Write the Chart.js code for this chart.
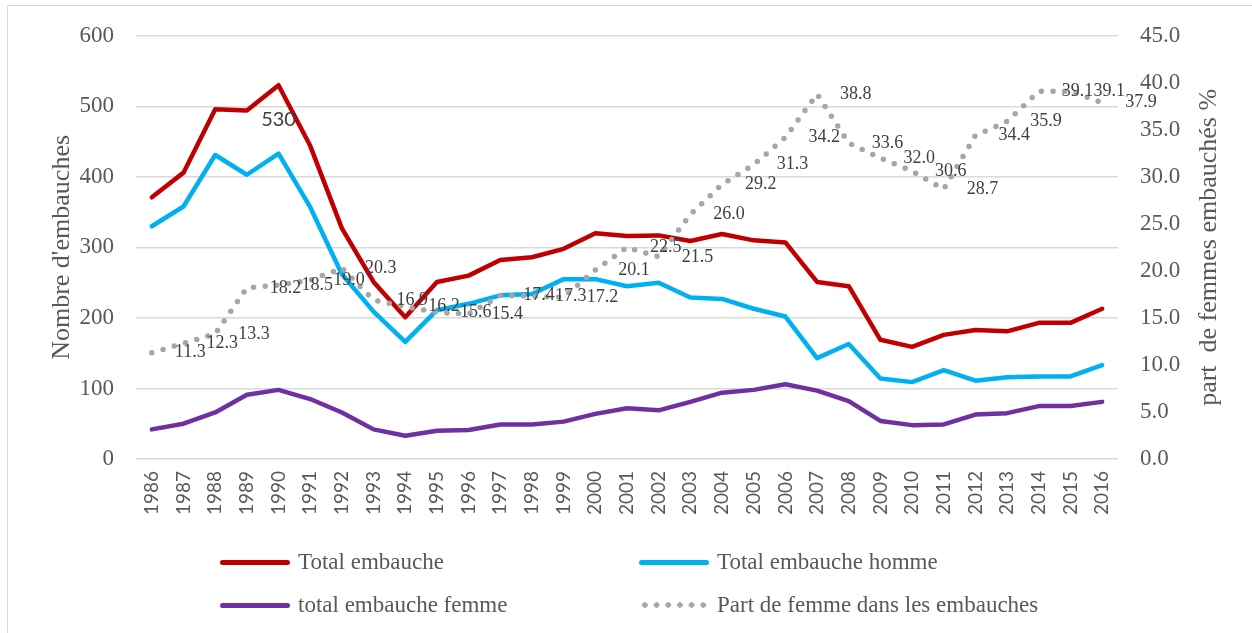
<!DOCTYPE html>
<html>
<head>
<meta charset="utf-8">
<script src="https://cdn.jsdelivr.net/npm/chart.js@4.4.1/dist/chart.umd.min.js"></script>
<style>
    html, body { margin: 0; padding: 0; background: #fff; overflow: hidden; }
    #wrap { position: relative; width: 1252px; height: 633px; }
    #frame { position: absolute; left: 7px; top: 5px; width: 1260px; height: 640px; border: 1.5px solid #d9d9d9; }
    #chart { position: absolute; left: 0; top: 0; }
    .item { position: absolute; height: 30px; display: flex; align-items: center; white-space: nowrap;
            font-family: "Liberation Serif", serif; font-size: 23px; color: #595959; }
    .swatch { width: 70px; height: 5px; border-radius: 3px; margin-right: 8px; }
    .dots { width: 70px; height: 6px; margin-right: 8px;
            background: radial-gradient(circle, #a6a6a6 2.5px, transparent 3px) 0 0 / 11.7px 6px repeat-x; }
</style>
</head>
<body>
<div id="wrap">
    <div id="frame"></div>
    <canvas id="chart" width="1252" height="633"></canvas>
    <div class="item" style="left:220px; top:547px;"><span class="swatch" style="background:#C00000"></span>Total embauche</div>
    <div class="item" style="left:639px; top:547px;"><span class="swatch" style="background:#00B0F0"></span>Total embauche homme</div>
    <div class="item" style="left:220px; top:590px;"><span class="swatch" style="background:#7030A0"></span>total embauche femme</div>
    <div class="item" style="left:639px; top:590px;"><span class="dots"></span>Part de femme dans les embauches</div>
</div>
<script>
const years = ['1986','1987','1988','1989','1990','1991','1992','1993','1994','1995','1996',
    '1997','1998','1999','2000','2001','2002','2003','2004','2005','2006','2007','2008','2009',
    '2010','2011','2012','2013','2014','2015','2016'];

const totalEmbauche = [371, 406, 496, 494, 530, 444, 327, 251, 201, 251, 260,
    282, 286, 298, 320, 316, 317, 309, 319, 310, 307, 251, 245, 169,
    159, 176, 183, 181, 193, 193, 213];

const totalHomme = [330, 358, 431, 403, 433, 357, 262, 209, 166, 211, 220,
    232, 234, 255, 255, 245, 250, 229, 227, 213, 202, 143, 163, 114,
    109, 126, 111, 116, 117, 117, 133];

const totalFemme = [42, 50, 66, 91, 98, 85, 66, 42, 33, 40, 41,
    49, 49, 53, 64, 72, 69, 81, 94, 98, 106, 97, 82, 54,
    48, 49, 63, 65, 75, 75, 81];

const partFemmes = [11.3, 12.3, 13.3, 18.2, 18.5, 19.0, 20.3, 16.9, 16.2, 15.6, 15.4,
    17.4, 17.3, 17.2, 20.1, 22.5, 21.5, 26.0, 29.2, 31.3, 34.2, 38.8, 33.6, 32.0,
    30.6, 28.7, 34.4, 35.9, 39.1, 39.1, 37.9];

const leftTicks = [0, 100, 200, 300, 400, 500, 600];
const rightTicks = [0, 5, 10, 15, 20, 25, 30, 35, 40, 45];

const tickColor = '#595959';
const serif = '"Liberation Serif", serif';

// labels of the % series, the 530 peak, and the right axis title (reads bottom to top)
const labelPlugin = {
    id: 'valueLabels',
    afterDatasetsDraw(chart) {
        const ctx = chart.ctx;
        ctx.save();
        ctx.fillStyle = '#404040';
        ctx.font = '18px ' + serif;
        ctx.textAlign = 'left';
        ctx.textBaseline = 'middle';
        chart.getDatasetMeta(3).data.forEach((pt, i) => {
            ctx.fillText(partFemmes[i].toFixed(1), pt.x + 23, pt.y);
        });

        const peak = totalEmbauche.indexOf(Math.max(...totalEmbauche));
        const p = chart.getDatasetMeta(0).data[peak];
        ctx.font = '20px Lato, sans-serif';
        ctx.textAlign = 'center';
        ctx.fillText(String(totalEmbauche[peak]), p.x, p.y + 34);
        ctx.restore();
    },
    afterDraw(chart) {
        const ctx = chart.ctx;
        const y1 = chart.scales.y1;
        ctx.save();
        ctx.fillStyle = tickColor;
        ctx.font = '26px ' + serif;
        ctx.textAlign = 'center';
        ctx.textBaseline = 'middle';
        ctx.translate(1209, (y1.top + y1.bottom) / 2);
        ctx.rotate(-Math.PI / 2);
        ctx.fillText('part  de femmes embauchés %', 0, 0);
        ctx.restore();
    }
};

const ctx = document.getElementById('chart').getContext('2d');
new Chart(ctx, {
    type: 'line',
    data: {
        labels: years,
        datasets: [
            { label: 'Total embauche', data: totalEmbauche, borderColor: '#C00000', yAxisID: 'y', order: 3 },
            { label: 'Total embauche homme', data: totalHomme, borderColor: '#00B0F0', yAxisID: 'y', order: 2 },
            { label: 'total embauche femme', data: totalFemme, borderColor: '#7030A0', yAxisID: 'y', order: 1 },
            { label: 'Part de femme dans les embauches', data: partFemmes, borderColor: '#A6A6A6', yAxisID: 'y1',
              borderWidth: 5.5, borderDash: [0, 11.7], borderCapStyle: 'round', order: 0 }
        ]
    },
    options: {
        responsive: false,
        animation: false,
        devicePixelRatio: 1,
        layout: { padding: { top: 35, left: 0, right: 0, bottom: 0 } },
        elements: {
            point: { radius: 0, hoverRadius: 0 },
            line: { tension: 0, borderWidth: 4.5, borderJoinStyle: 'round', borderCapStyle: 'round', fill: false }
        },
        plugins: { legend: { display: false }, tooltip: { enabled: false } },
        scales: {
            x: {
                type: 'category',
                offset: true,
                grid: { display: false },
                border: { display: false },
                ticks: { color: tickColor, font: { family: 'Lato', size: 19 }, minRotation: 90, maxRotation: 90, padding: 4, autoSkip: false },
                afterFit: s => { s.height = 174; }
            },
            y: {
                position: 'left',
                min: 0, max: 600,
                afterBuildTicks: s => { s.ticks = leftTicks.map(v => ({ value: v })); },
                grid: { color: '#d9d9d9', lineWidth: 1.5, drawTicks: false },
                border: { display: false },
                ticks: { color: tickColor, font: { family: 'Liberation Serif', size: 23 }, padding: 22 },
                title: { display: true, text: "Nombre d'embauches", color: tickColor,
                         font: { family: 'Liberation Serif', size: 26 }, padding: { top: 47, bottom: 0 } },
                afterFit: s => { s.width = 136; }
            },
            y1: {
                position: 'right',
                min: 0, max: 45,
                afterBuildTicks: s => { s.ticks = rightTicks.map(v => ({ value: v })); },
                grid: { display: false, drawTicks: false },
                border: { display: false },
                ticks: { color: tickColor, font: { family: 'Liberation Serif', size: 23 }, padding: 22,
                         callback: v => v.toFixed(1) },
                afterFit: s => { s.width = 134; }
            }
        }
    },
    plugins: [labelPlugin]
});
</script>
</body>
</html>
